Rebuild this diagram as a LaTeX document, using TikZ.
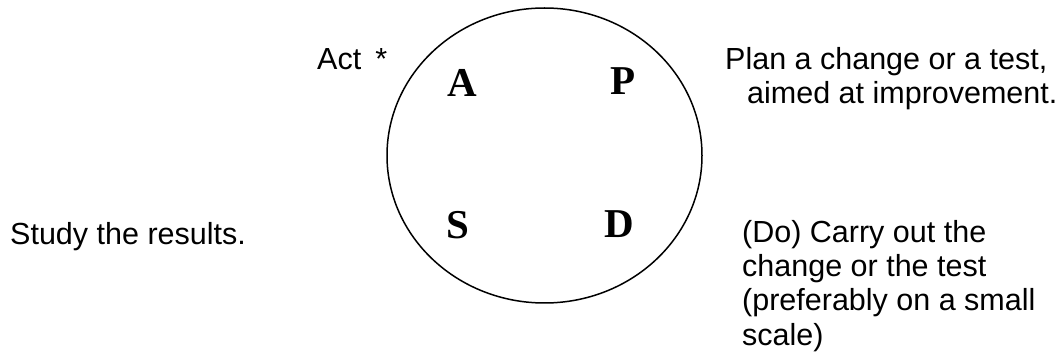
\documentclass[tikz,border=0pt]{standalone}
\usepackage{fontspec}
\setmainfont{Liberation Sans}
\newfontfamily\lettersfont{Liberation Serif}
\usetikzlibrary{shapes.geometric, positioning}

\begin{document}
\begin{tikzpicture}[
    x=1pt, y=-1pt,
    phase/.style={font=\lettersfont\bfseries\fontsize{41}{41}\selectfont, inner sep=0pt, anchor=base},
    note/.style={font=\fontsize{30.5}{34.3}\selectfont, inner sep=0pt, anchor=base west, align=left}
]
    \useasboundingbox (0,0) rectangle (1061,358);

    % Cycle
    \node[ellipse, draw, line width=1.5pt, minimum width=315pt, minimum height=295pt, inner sep=0pt] (cycle) at (544.5,155.5) {};

    % Letters
    \node[phase] (act) at (462,97) {A};
    \node[phase] (plan) at (623,95) {P};
    \node[phase] (study) at (458,239) {S};
    \node[phase] (do) at (619,238) {D};

    % Descriptions (base = last line)
    \node[note] (actnote) at (317,70) {Act\hspace{14pt}*};
    \node[note] (plannote) at (725,104) {Plan a change or a test,\\\hspace*{22pt}aimed at improvement.};
    \node[note] (studynote) at (10,245) {Study the results.};
    \node[note] (donote) at (742,345) {(Do) Carry out the\\change or the test\\(preferably on a small\\scale)};
\end{tikzpicture}
\end{document}
